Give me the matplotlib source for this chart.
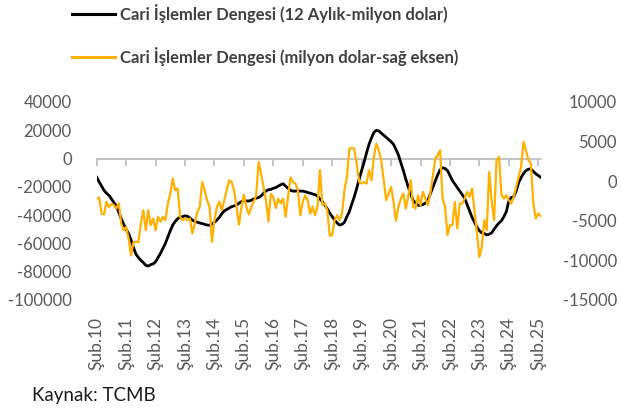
import numpy as np
import matplotlib
matplotlib.use("Agg")
import matplotlib.pyplot as plt
from matplotlib.lines import Line2D

plt.rcParams['font.family'] = ['Lato', 'DejaVu Sans']

# monthly data, Şub.2010 .. Mar.2025 (million USD)
cari_12ay = [
    -13200, -16500, -19500, -22500, -24500, -26000, -28500, -31000, -33500, -38000,
    -42500, -46500, -50000, -53000, -57500, -63000, -67500, -70000, -72000, -73500,
    -75500, -76000, -75000, -74500, -73000, -70000, -67000, -63500, -60000, -55500,
    -51000, -47000, -44500, -42500, -41500, -41000, -40500, -40800, -42000, -43500,
    -44500, -45000, -45500, -46000, -46500, -47000, -47200, -46500, -45000, -43500,
    -41500, -39000, -37000, -36000, -35000, -34000, -33500, -33000, -31500, -30500,
    -29600, -30000, -30000, -29500, -28500, -28000, -27500, -26500, -24500, -23000,
    -22000, -21800, -21000, -20500, -19500, -18500, -17800, -19500, -21000, -22500,
    -23000, -23000, -22800, -23000, -23000, -23500, -24000, -24500, -25000, -25500,
    -26500, -28500, -30500, -33000, -35500, -38500, -41000, -43500, -45500, -47000,
    -46500, -45000, -41000, -37500, -32000, -27000, -21000, -14500, -8500, -2500,
    4000, 10000, 14500, 18500, 20000, 19500, 18000, 16500, 15000, 13500,
    12000, 10000, 6500, 2500, -3000, -8500, -14500, -20000, -25000, -29500,
    -31500, -33000, -33000, -32500, -31500, -29500, -25000, -20500, -16000, -11500,
    -8000, -6500, -7000, -8500, -12000, -15500, -18000, -20500, -23000, -25500,
    -28000, -32500, -37000, -41500, -45000, -48500, -51000, -52500, -53000, -54000,
    -53500, -52500, -50000, -47500, -45500, -44000, -41000, -37500, -30000, -27500,
    -27000, -23000, -17000, -13500, -10500, -8500, -7500, -7300, -9000, -10800,
    -12000, -13200,
]

cari_aylik = [
    -2200, -2060, -4100, -4200, -2600, -3250, -2900, -3000, -3450, -2800,
    -5350, -6200, -5770, -7240, -9340, -7670, -7670, -7670, -5340, -3660,
    -6190, -3660, -5560, -4710, -6190, -4500, -5110, -4500, -4930, -2820,
    -1550, 340, -1140, -920, -4500, -4930, -4710, -4930, -4710, -6610,
    -5340, -3870, -3240, -90, -1140, -2400, -3240, -7670, -4930, -3240,
    -2610, -3660, -2400, -1140, 130, -90, -1140, -3240, -5500, -3240,
    -1700, -3200, -4200, -3300, -2600, -1800, 2400, 1000, -700, -2400,
    -5100, -1600, -2000, -3400, -2200, -2800, -2200, -4500, -2000, 500,
    -100, -300, -1100, -4300, -2600, -1800, -2400, -4100, -3200, -4300,
    -3200, 1400, -3000, -2800, -3700, -6900, -6800, -4900, -4300, -4900,
    -4100, -1100, 500, 4100, 4200, 4100, 2200, -100, -300, -100,
    -300, 1390, 130, 3070, 4760, 3920, 2650, 130, -2400, -1560,
    -720, -2610, -5000, -3240, -2190, -1560, -3450, -1980, 130, -3240,
    -3450, -1770, -3030, -1350, -2190, -3030, -1560, 540, 2860, 3280,
    3920, -2190, -3240, -6820, -5560, -5560, -2610, -5980, -2820, -2820,
    -2190, -1350, -1980, -930, -3660, -6500, -9560, -8300, -4930, -6190,
    1180, -2500, -4930, 2650, 3070, -1770, -2190, -1770, -2400, -2820,
    -1980, -720, 540, 1800, 4970, 3920, 2650, 2230, -2820, -4710,
    -4080, -4400,
]

yil_etiket = ['Şub.%02d' % y for y in range(10, 26)]
yil_ay = [12 * i for i in range(len(yil_etiket))]

sol_ticks = list(range(-100000, 40001, 20000))
sag_ticks = list(range(-15000, 10001, 5000))

label1 = 'Cari İşlemler Dengesi (12 Aylık-milyon dolar)'
label2 = 'Cari İşlemler Dengesi (milyon dolar-sağ eksen)'

W, H = 622, 409
fig = plt.figure(figsize=(W / 100, H / 100), dpi=100)
x0, x1 = 96.7, 540.7
ytop, ybot = 102, 300
ax = fig.add_axes([x0 / W, 1 - ybot / H, (x1 - x0) / W, (ybot - ytop) / H])
ax2 = ax.twinx()

x = np.arange(len(cari_12ay))
ax.plot(x, cari_12ay, color='black', lw=2.0, solid_joinstyle='round')
ax2.plot(np.arange(len(cari_aylik)), cari_aylik, color='#FFB000', lw=1.6,
         solid_joinstyle='round')

ax.set_xlim(0, len(x) - 1)
ax.set_ylim(-100000, 40000)
ax2.set_ylim(-15000, 10000)

gri = '#595959'
for a in (ax, ax2):
    for s in a.spines.values():
        s.set_visible(False)

# horizontal axis line at zero with yearly tick marks
ax.spines['bottom'].set_visible(True)
ax.spines['bottom'].set_position(('data', 0))
ax.spines['bottom'].set_color('#BFBFBF')
ax.spines['bottom'].set_linewidth(1.3)
ax.spines['bottom'].set_zorder(0)
ax.set_xticks(yil_ay)
ax.tick_params(axis='x', direction='out', length=5, width=1.3,
               color='#BFBFBF', labelbottom=False)

sec = ax.secondary_xaxis(0)
sec.set_xticks(yil_ay, yil_etiket, rotation=90)
sec.spines['bottom'].set_visible(False)
sec.tick_params(length=0, pad=12, labelsize=12.5, labelcolor=gri)

ax.set_yticks(sol_ticks, [str(v) for v in sol_ticks])
ax.tick_params(axis='y', length=0, pad=18, labelsize=12, labelcolor=gri)
ax2.set_yticks(sag_ticks, [str(v) for v in sag_ticks])
ax2.tick_params(axis='y', length=0, pad=55, labelsize=12, labelcolor=gri)
for t in ax2.get_yticklabels():
    t.set_horizontalalignment('right')

handles = [Line2D([], [], color='black', lw=2.2),
           Line2D([], [], color='#FFB000', lw=2.2)]
fig.legend(handles, [label1, label2], loc='upper left',
           bbox_to_anchor=(72 / W, 1 - 4 / H), frameon=False,
           prop={'weight': 'bold', 'size': 12}, labelcolor='#404040',
           borderpad=0, borderaxespad=0, handlelength=2.6,
           handletextpad=0.25, labelspacing=1.45)

fig.text(32 / W, 1 - 395 / H, 'Kaynak: TCMB', fontsize=13.5, color='#1a1a1a',
         va='center', ha='left')

fig.savefig('out.png', dpi=100)
